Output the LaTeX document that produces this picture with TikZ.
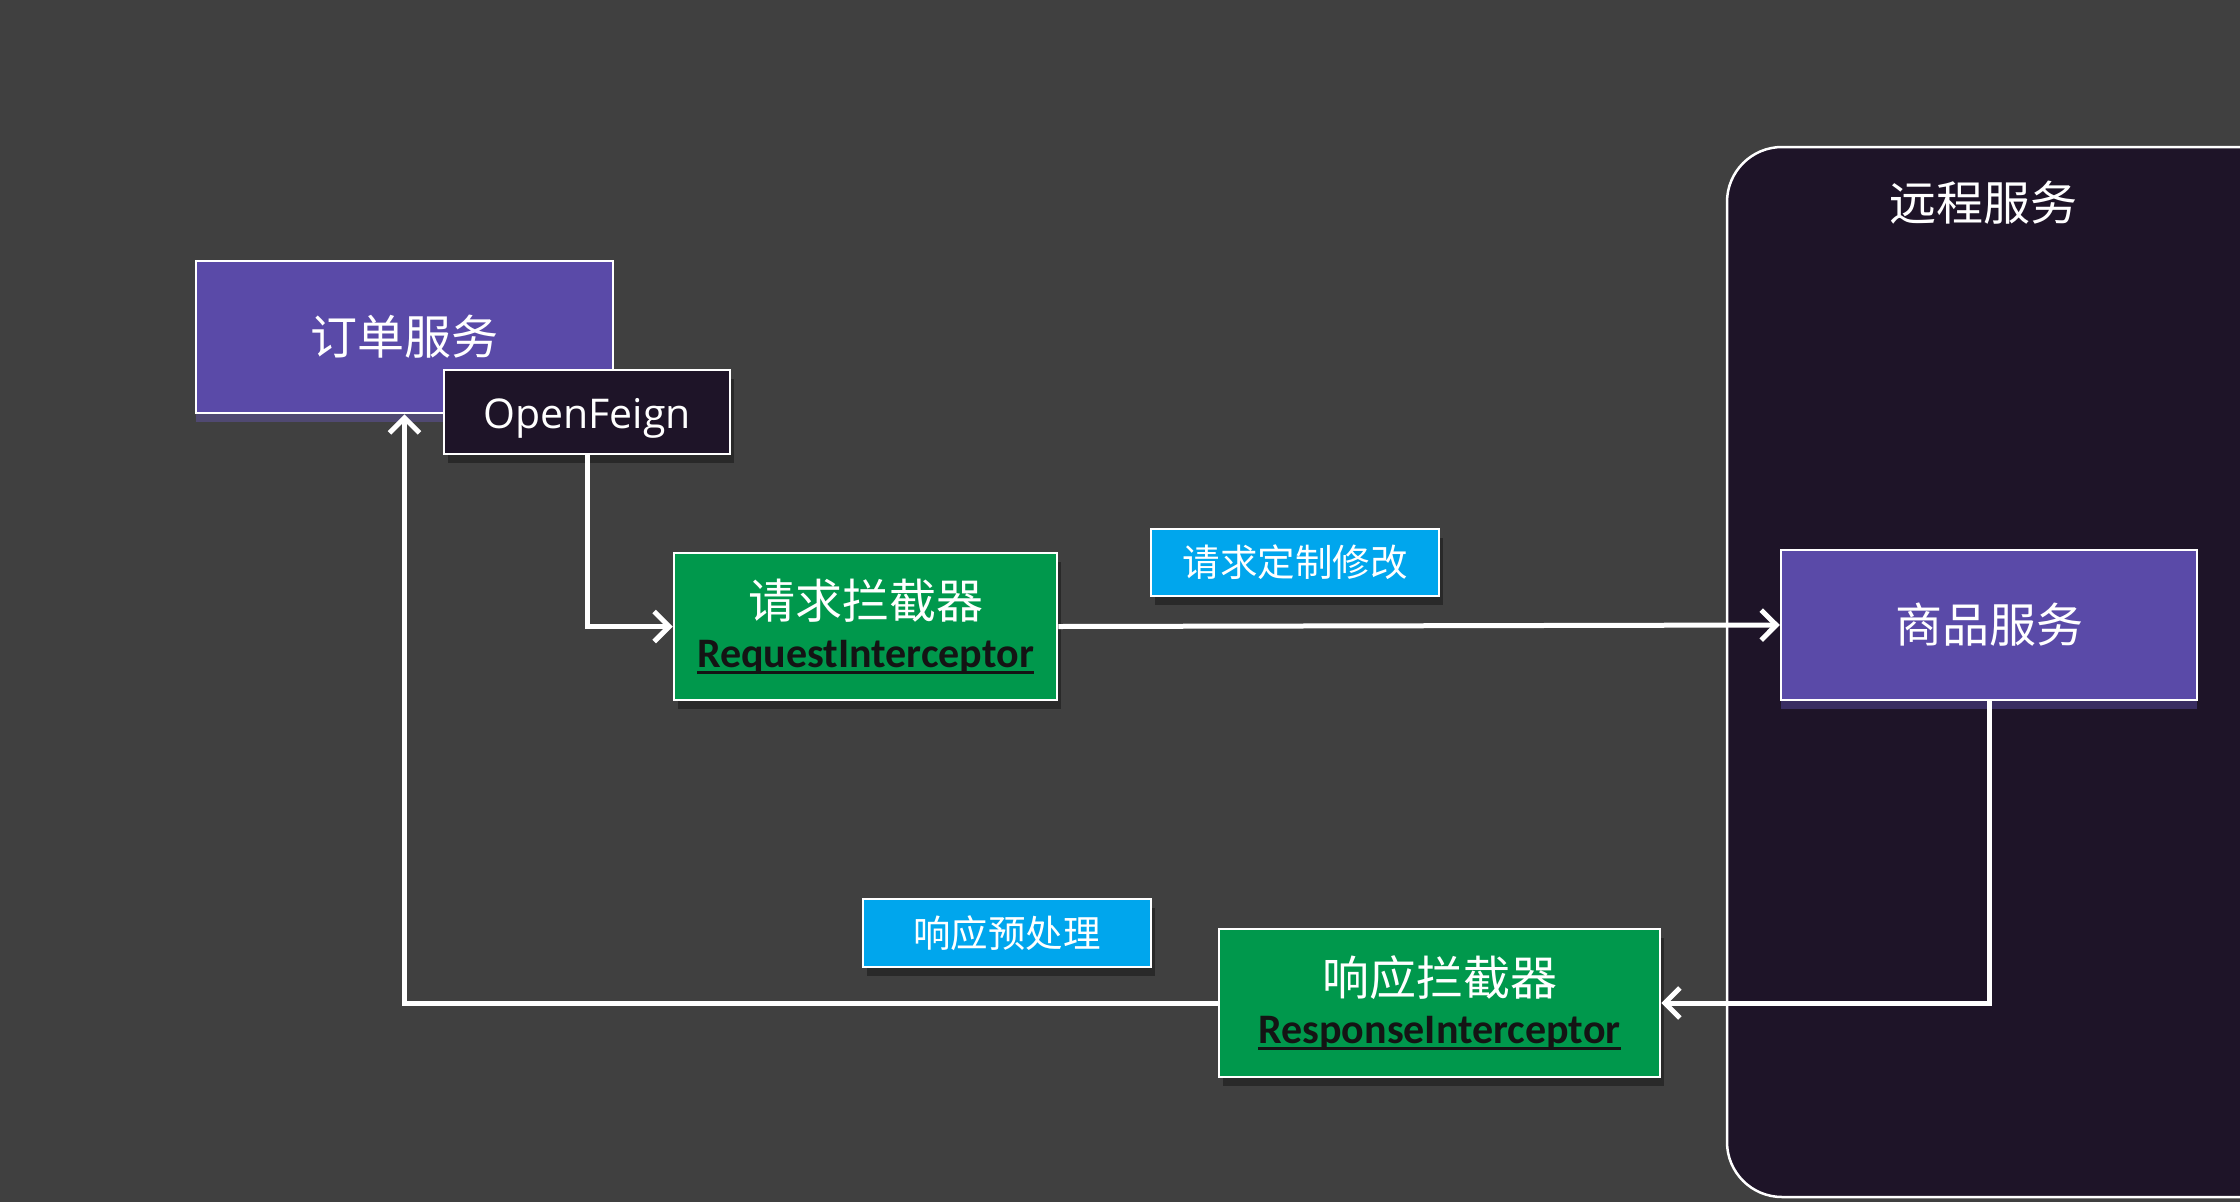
\documentclass[tikz,border=0pt]{standalone}
\usepackage{fontspec}
\setmainfont{Noto Sans CJK SC}
\newfontfamily\cjk{Noto Sans CJK SC}
\newfontfamily\opensans{Open Sans}
\newfontfamily\carlito{Carlito}
\usetikzlibrary{arrows.meta,shadows}
\definecolor{bg}{HTML}{404040}
\definecolor{darkbox}{HTML}{1E1428}
\definecolor{purplebox}{HTML}{5A4AA8}
\definecolor{purpleglow}{HTML}{6E5CD0}
\definecolor{greenbox}{HTML}{00984C}
\definecolor{bluebox}{HTML}{00A6ED}
\definecolor{entext}{HTML}{141414}
\newcommand\myul[1]{\setbox0\hbox{#1}\leavevmode\rlap{\rule[-0.17em]{\wd0}{0.07em}}\box0}
\tikzset{
  boxbase/.style={draw=white, line width=2.5pt, inner sep=0pt, text=white},
  purplestyle/.style={boxbase, fill=purplebox,
    drop shadow={shadow xshift=0pt, shadow yshift=-9pt, opacity=.35, fill=purpleglow}},
  darkstyle/.style={boxbase, fill=darkbox,
    drop shadow={shadow xshift=4pt, shadow yshift=-9pt, opacity=.35, fill=black}},
  greenstyle/.style={boxbase, fill=greenbox,
    drop shadow={shadow xshift=4pt, shadow yshift=-9pt, opacity=.35, fill=black}},
  bluestyle/.style={boxbase, fill=bluebox,
    drop shadow={shadow xshift=4pt, shadow yshift=-9pt, opacity=.35, fill=black}},
  cjkbig/.style={font=\cjk\fontsize{47}{50}\selectfont, text=white, inner sep=0pt},
  cjksmall/.style={font=\cjk\fontsize{37.5}{40}\selectfont, text=white, inner sep=0pt},
  entxt/.style={font=\carlito\bfseries\fontsize{42}{46}\selectfont, text=entext, inner sep=0pt, anchor=base},
  flow/.style={draw=white, line width=5pt, -{Straight Barb[length=15pt,width=30pt]}},
}
\begin{document}
\begin{tikzpicture}[x=1pt,y=-1pt]
\useasboundingbox (0,0) rectangle (2240,1202);
\fill[bg] (0,0) rectangle (2240,1202);
\begin{scope}
  \clip (0,0) rectangle (2240,1202);
  \node[draw=white, line width=2.5pt, fill=darkbox, rounded corners=55pt,
        minimum width=573pt, minimum height=1050pt, inner sep=0pt] (remote) at (2013.5,672) {};
\end{scope}
\node[cjkbig] (remotetxt) at (1983,203) {远程服务};

% order service and OpenFeign
\node[purplestyle, minimum width=417pt, minimum height=152pt, font=\cjk\fontsize{47}{50}\selectfont] (order) at (404.5,337) {订单服务};
\node[darkstyle, minimum width=286pt, minimum height=84pt] (feign) at (587,412) {};
\node[font=\opensans\fontsize{41}{44}\selectfont, text=white, inner sep=0pt, anchor=base] (feigntxt) at (587,428) {OpenFeign};

% request interceptor
\node[greenstyle, minimum width=383pt, minimum height=147pt] (req) at (865.5,626.5) {};
\node[cjkbig] (reqcn) at (865.5,601) {请求拦截器};
\node[entxt] (reqen) at (865.5,667) {\myul{RequestInterceptor}};

\node[bluestyle, minimum width=288pt, minimum height=67pt, font=\cjk\fontsize{37.5}{40}\selectfont] (reqlbl) at (1295,562.5) {请求定制修改};

% goods service
\node[purplestyle, minimum width=416pt, minimum height=150pt, font=\cjk\fontsize{47}{50}\selectfont] (goods) at (1989,625) {商品服务};

% response interceptor
\node[greenstyle, minimum width=441pt, minimum height=148pt] (resp) at (1439.5,1003) {};
\node[cjkbig] (respcn) at (1439.5,978) {响应拦截器};
\node[entxt] (respen) at (1439.5,1043) {\myul{ResponseInterceptor}};

\node[bluestyle, minimum width=288pt, minimum height=68pt, font=\cjk\fontsize{37.5}{40}\selectfont] (resplbl) at (1007,933) {响应预处理};

% connectors
\draw[flow] (feign.south) |- (req.west);
\draw[flow] (req.east) -- (goods.west);
\draw[flow] (goods.south) |- (resp.east);
\draw[flow] (resp.west) -| (order.south);
\end{tikzpicture}
\end{document}
